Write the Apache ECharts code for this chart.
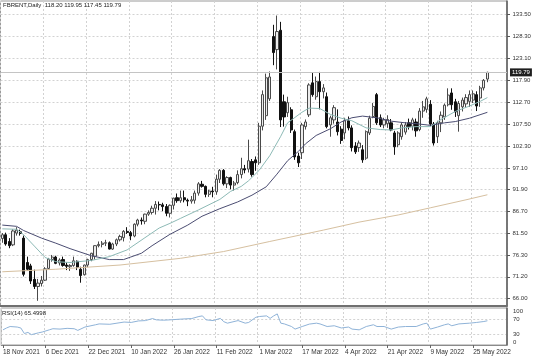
<!DOCTYPE html>
<html><head><meta charset="utf-8">
<script src="https://cdn.jsdelivr.net/npm/echarts@6/dist/echarts.min.js"></script>
<style>html,body{margin:0;padding:0;background:#fff}#c{width:536px;height:357px}</style>
</head><body><div id="c"></div>
<script>
// trading days shown on the chart
const tradingDays = [
 ['Nov', 2021, [18,19,22,23,24,25,26,29,30]],
 ['Dec', 2021, [1,2,3,6,7,8,9,10,13,14,15,16,17,20,21,22,23,27,28,29,30,31]],
 ['Jan', 2022, [3,4,5,6,7,10,11,12,13,14,17,18,19,20,21,24,25,26,27,28,31]],
 ['Feb', 2022, [1,2,3,4,7,8,9,10,11,14,15,16,17,18,21,22,23,24,25,28]],
 ['Mar', 2022, [1,2,3,4,7,8,9,10,11,14,15,16,17,18,21,22,23,24,25,28,29,30,31]],
 ['Apr', 2022, [1,4,5,6,7,8,11,12,13,14,18,19,20,21,22,25,26,27,28,29]],
 ['May', 2022, [2,3,4,5,6,9,10,11,12,13,16,17,18,19,20,23,24,25,26,27,30,31]]
];
// empty slots on the right (chart shift)
const futureDays = ['1 Jun 2022','2 Jun 2022','3 Jun 2022','6 Jun 2022','7 Jun 2022'];

const openP = [80.3,81.2,79.6,78.8,81.6,81.9,80.4,74.6,73.8,70.6,68.9,69.6,70.4,73.2,75.3,75.9,74.5,75.3,74.0,73.6,73.9,74.9,73.0,71.7,74.0,75.3,76.1,78.6,78.9,79.2,79.3,77.8,79.0,80.0,80.5,82.0,
 81.7,80.9,83.7,84.7,84.4,86.1,86.5,87.5,88.4,88.3,87.9,86.3,88.2,90.0,89.3,90.0,89.4,89.2,89.4,91.1,93.2,92.7,90.8,91.6,91.4,94.4,96.5,93.3,94.8,93.0,93.6,95.5,96.9,96.8,98.6,99.0,
 98.3,107.0,109.5,113.5,128.3,125.2,129.8,112.8,110.2,110.9,105.7,99.9,100.7,106.9,109.7,117.3,114.0,117.6,115.2,114.0,107.3,108.5,108.0,106.3,105.4,108.3,106.6,102.3,101.9,101.4,99.4,105.4,109.3,
 114.5,109.0,107.3,107.6,107.8,105.4,102.6,104.5,105.6,107.8,107.0,108.0,106.2,110.6,111.0,112.2,107.5,104.5,107.8,109.2,112.1,114.9,112.8,109.5,111.6,112.3,112.9,113.2,114.5,113.7,116.1,118.20];
const highP = [81.6,81.7,80.4,82.5,83.0,82.4,81.0,76.0,74.3,72.9,70.7,71.4,73.5,75.7,76.4,76.2,75.6,76.0,74.6,74.2,76.0,75.1,73.6,74.1,75.5,76.9,78.7,79.6,79.7,80.0,79.6,79.3,80.3,81.2,82.3,83.0,
 82.1,83.9,85.0,85.3,86.2,87.0,88.1,89.2,89.1,88.8,88.5,88.4,90.0,91.0,91.7,91.7,89.8,90.4,91.7,93.7,94.0,92.9,91.9,92.6,95.5,96.8,96.8,95.1,95.0,94.0,96.5,99.5,97.8,103.8,99.2,99.8,
 107.8,115.5,119.5,120.0,131.1,133.3,131.8,114.5,114.0,111.5,106.2,100.7,107.8,108.6,117.2,119.7,118.8,119.9,117.0,115.0,109.5,112.0,111.0,107.0,109.0,109.3,107.2,103.2,103.6,102.5,106.0,109.5,112.5,
 114.9,109.8,109.0,109.6,108.7,105.9,105.8,107.9,108.0,108.8,109.0,108.8,111.3,113.0,114.0,113.2,108.0,108.3,110.5,112.4,116.0,116.0,113.5,113.0,113.8,114.6,115.5,115.5,115.3,116.6,118.2,119.95];
const lowP = [79.3,78.6,78.0,78.5,81.0,81.0,71.3,72.6,69.5,68.3,65.5,68.9,70.2,73.0,74.8,74.2,73.9,73.6,72.8,72.6,73.6,72.8,69.8,71.5,73.5,74.9,75.3,78.2,78.2,78.5,77.7,77.6,78.5,79.6,79.6,81.4,
 79.9,80.6,83.2,83.6,83.7,85.7,86.0,86.0,87.0,86.8,85.6,85.3,87.2,88.8,88.8,88.9,88.0,88.6,88.6,90.5,92.4,90.1,90.2,90.1,90.7,93.5,92.9,92.3,92.0,91.7,93.2,94.6,95.8,96.0,95.0,96.4,
 97.8,106.0,108.5,113.0,121.5,120.5,106.8,106.9,109.2,105.4,99.0,97.3,99.2,106.2,109.2,114.0,113.3,111.0,113.6,106.5,104.5,107.6,104.8,102.8,103.9,106.0,101.0,100.4,100.9,98.3,99.0,104.9,108.9,
 107.3,106.8,106.5,106.6,105.8,100.2,102.0,103.8,105.0,106.2,106.0,104.5,105.8,109.0,110.2,107.0,102.4,103.0,105.6,108.5,111.7,110.9,109.2,105.7,110.5,111.5,111.6,112.5,110.6,111.6,115.5,117.45];
const closeP = [81.2,79.0,78.6,82.1,82.3,81.5,71.8,73.0,70.2,68.9,69.7,70.4,73.1,75.4,75.9,74.4,75.2,73.9,73.7,73.9,75.0,73.5,71.5,74.0,75.3,76.8,78.6,78.9,79.2,79.3,77.8,79.0,80.0,80.8,82.0,81.75,
 80.9,83.7,84.7,84.5,86.1,86.5,87.5,88.4,88.3,87.9,86.3,88.2,89.9,89.3,90.0,89.5,89.2,89.5,91.1,93.3,92.7,90.8,91.6,91.4,94.4,96.5,93.3,94.8,93.0,93.5,95.5,96.9,96.6,98.8,95.5,98.3,
 107.0,114.5,118.5,118.7,124.5,129.5,108.5,109.2,112.6,106.1,99.7,98.3,107.3,108.0,116.8,114.5,117.6,115.2,116.1,106.9,109.0,111.4,105.7,103.6,108.3,106.6,101.9,100.9,103.0,99.0,105.7,108.9,111.7,
 107.8,107.3,108.5,108.6,106.1,102.1,105.4,107.3,107.3,106.9,108.5,105.9,110.6,111.6,113.5,107.5,103.0,107.8,109.6,112.0,114.4,112.1,110.4,112.4,113.2,113.8,114.5,114.7,111.8,116.1,117.9,119.79];

// moving averages: [bar index, value]
const maFast = [[0,82.6],[4,82.5],[6,81.2],[9,78.5],[12,75.8],[15,74.8],[19,74.6],[25,75.1],[30,76.0],[35,77.6],[40,80.5],[44,82.8],[47,83.9],[50,85.1],[55,87.1],[61,89.6],[64,91.5],[67,92.7],[69,94.0],[72,96.5],[75,100.0],[78,104.5],[80,107.8],[84,110.3],[86,111.3],[89,111.2],[92,109.8],[95,108.9],[98,108.3],[102,106.6],[106,106.2],[109,106.1],[112,106.6],[116,106.9],[120,106.9],[123,108.6],[127,110.5],[131,111.8],[134,112.9],[136,113.8]];
const maSlow = [[0,83.5],[4,83.2],[6,82.2],[11,80.4],[15,79.2],[19,77.9],[25,76.2],[30,75.3],[34,75.3],[36,75.9],[39,76.8],[42,78.6],[47,81.3],[52,83.5],[56,85.6],[61,87.4],[66,89.0],[70,90.6],[74,92.6],[77,95.6],[80,98.8],[83,101.0],[85,102.8],[88,104.8],[92,106.4],[95,108.0],[98,109.0],[101,109.4],[105,109.0],[109,108.2],[113,107.8],[116,107.6],[120,107.2],[124,107.8],[127,108.1],[131,108.9],[136,110.3]];
const maLong = [[0,72.4],[15,73.0],[33,74.0],[50,75.6],[62,77.2],[75,79.6],[90,82.3],[100,84.2],[111,85.9],[120,87.6],[130,89.5],[136,90.7]];

// RSI(14): [bar index, value]
const rsi = [[0,41],[1,46],[2,50],[4,48.5],[5,46],[6,31],[7,34],[8,28],[10,33],[11,35],[13,41],[14,44],[16,43],[18,45],[20,44],[21,39.5],[23,48.5],[26,54.7],[27,57],[30,56],[32,59],[34,62],[36,61],[38,65],[40,66],[42,71.5],[43,68],[45,67],[47,68],[50,70],[53,71.5],[55,77],[56,78.7],[57,68],[59,66],[61,72],[62,63],[63,59],[66,66],[68,59],[69,61],[71,75],[72,77],[74,78.7],[75,72],[76,78.7],[77,84],[78,59],[79,57],[81,50],[82,43],[84,50],[86,56.5],[88,59],[89,57],[91,50],[93,52],[95,46],[97,48.5],[98,43],[100,41],[102,50],[104,54.7],[105,50],[107,50],[109,43],[111,48.5],[113,50],[116,50],[118,57],[119,59],[120,43],[122,48.5],[124,54.7],[125,57],[126,52],[128,57],[131,59],[133,61],[135,63.5],[136,65.5]];
const rsiLast = '65.4998';

const priceTicks = [66.00,71.20,76.30,81.50,86.70,91.90,97.10,102.30,107.50,112.70,117.90,123.10,128.30,133.50];
const rsiTicks = [0,30,70,100];
const rsiLevels = [30,70];

const cats = [];
tradingDays.forEach(([m,y,days]) => days.forEach(d => cats.push(d + ' ' + m + ' ' + y)));
futureDays.forEach(s => cats.push(s));

const candles = openP.map((o,i) => [o, closeP[i], lowP[i], highP[i]]);
const last = closeP.length - 1;
const FONT = 'Liberation Sans';
const gridLine = {show:true, lineStyle:{color:'#d2d2d2', type:[2,2], width:1}};

const chart = echarts.init(document.getElementById('c'), null, {renderer:'canvas'});
chart.setOption({
  animation:false,
  backgroundColor:'#ffffff',
  textStyle:{fontFamily:FONT},
  title:[
    {text:'FBRENT,Daily  ' + [openP[last],highP[last],lowP[last],closeP[last]].map(v=>v.toFixed(2)).join(' '),
     left:3, top:2, padding:0, textStyle:{fontSize:6, fontWeight:'normal', color:'#222', fontFamily:FONT}},
    {text:'RSI(14) ' + rsiLast, left:2, top:310, padding:0,
     textStyle:{fontSize:6, fontWeight:'normal', color:'#222', fontFamily:FONT}}
  ],
  grid:[
    {left:0.5, right:29, top:1, height:305, show:true, borderColor:'#9a9a9a', borderWidth:1},
    {left:0.5, right:29, top:308, height:37, show:true, borderColor:'#9a9a9a', borderWidth:1}
  ],
  xAxis:[
    {type:'category', gridIndex:0, data:cats, boundaryGap:true,
     axisLabel:{show:false}, axisTick:{show:false},
     axisLine:{show:true, lineStyle:{color:'#707070', width:2}},
     splitLine:Object.assign({interval:11}, gridLine)},
    {type:'category', gridIndex:1, data:cats, boundaryGap:true,
     axisLabel:{interval:11, align:'left', fontSize:6.5, color:'#333', margin:4, fontFamily:FONT},
     axisTick:{show:true, interval:11, alignWithLabel:true, length:3, lineStyle:{color:'#666'}},
     axisLine:{show:true, lineStyle:{color:'#8a8a8a', width:1}},
     splitLine:Object.assign({interval:11}, gridLine)}
  ],
  yAxis:[
    {type:'value', gridIndex:0, position:'right', min:64.265, max:136.756, scale:true,
     axisLine:{show:true, lineStyle:{color:'#5a5a5a', width:1.5}},
     axisTick:{show:true, customValues:priceTicks, length:3, lineStyle:{color:'#555'}},
     axisLabel:{customValues:priceTicks, formatter:v=>v.toFixed(2), fontSize:6, color:'#333', margin:5.5, fontFamily:FONT},
     splitLine:gridLine},
    {type:'value', gridIndex:1, position:'right', min:0, max:100,
     axisLine:{show:true, lineStyle:{color:'#5a5a5a', width:1.5}},
     axisTick:{show:false, customValues:rsiLevels},
     axisLabel:{customValues:rsiTicks, fontSize:6, color:'#333', margin:6, fontFamily:FONT,
                verticalAlignMinLabel:'bottom', verticalAlignMaxLabel:'top'},
     splitLine:gridLine}
  ],
  series:[
    {type:'candlestick', xAxisIndex:0, yAxisIndex:0, data:candles, barWidth:2.7,
     itemStyle:{color:'#ececec', color0:'#111111', borderColor:'#4a4a4a', borderColor0:'#111111', borderWidth:1},
     markLine:{silent:true, symbol:['none','none'],
       data:[{yAxis:closeP[last]}],
       lineStyle:{color:'#c4c4c4', type:'solid', width:1},
       label:{position:'end', formatter:()=>closeP[last].toFixed(2), backgroundColor:'#1e1e1e', color:'#fff',
              fontSize:6, padding:[1,2,1,2], distance:3, fontFamily:FONT}}},
    {type:'line', xAxisIndex:0, yAxisIndex:0, data:maLong, showSymbol:false, symbol:'none',
     lineStyle:{color:'#d6c0a0', width:1}, z:3},
    {type:'line', xAxisIndex:0, yAxisIndex:0, data:maSlow, showSymbol:false, symbol:'none',
     lineStyle:{color:'#4b4d72', width:1}, z:3},
    {type:'line', xAxisIndex:0, yAxisIndex:0, data:maFast, showSymbol:false, symbol:'none',
     lineStyle:{color:'#8dbab6', width:1}, z:3},
    {type:'line', xAxisIndex:1, yAxisIndex:1, data:rsi, showSymbol:false, symbol:'none',
     lineStyle:{color:'#8fb3d8', width:1}}
  ]
});
</script></body></html>
